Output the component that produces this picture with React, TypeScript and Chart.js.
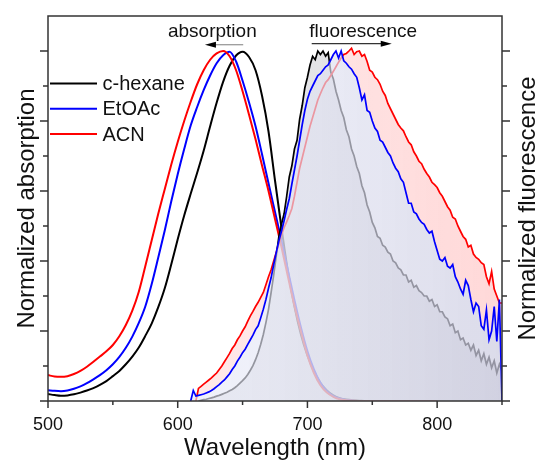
import { useEffect, useRef } from 'react';
import { Chart, registerables } from 'chart.js';

Chart.register(...registerables);

// ---------- data ----------
const X_MIN = 500;
const X_MAX = 850;
const X_TICK_LABELS = [500, 600, 700, 800];
const Y_MAX = 1.1;

const SERIES_NAMES = ['c-hexane', 'EtOAc', 'ACN'];
const SERIES_COLORS = ['#000000', '#0000ff', '#ff0000'];

const X_TITLE = 'Wavelength (nm)';
const Y_TITLE_LEFT = 'Normalized absorption';
const Y_TITLE_RIGHT = 'Normalized fluorescence';
const ANNOTATIONS = ['absorption', 'fluorescence'];

// absorption spectra: 500..800 nm, every 5 nm
const ABS_START = 500;
const ABS_STEP = 5;
const ABS_CHEXANE = [
  0.020, 0.017, 0.015, 0.016, 0.019, 0.024, 0.030, 0.037, 0.046, 0.057,
  0.071, 0.086, 0.105, 0.127, 0.153, 0.186, 0.222, 0.268, 0.322, 0.390,
  0.462, 0.530, 0.592, 0.652, 0.715, 0.785, 0.852, 0.912, 0.958, 0.987,
  0.998, 0.983, 0.945, 0.872, 0.770, 0.630, 0.495, 0.370, 0.270, 0.190,
  0.130, 0.085, 0.052, 0.030, 0.016, 0.008, 0.004, 0.002, 0.001, 0,
  0, 0, 0, 0, 0, 0, 0, 0, 0, 0, 0,
];
const ABS_ETOAC = [
  0.031, 0.029, 0.028, 0.030, 0.035, 0.042, 0.051, 0.062, 0.074, 0.088,
  0.105, 0.126, 0.152, 0.184, 0.223, 0.270, 0.335, 0.410, 0.487, 0.570,
  0.648, 0.720, 0.787, 0.840, 0.888, 0.930, 0.965, 0.988, 0.998, 0.970,
  0.915, 0.853, 0.785, 0.705, 0.622, 0.540, 0.458, 0.372, 0.288, 0.210,
  0.142, 0.090, 0.052, 0.028, 0.014, 0.007, 0.003, 0.001, 0, 0,
  0, 0, 0, 0, 0, 0, 0, 0, 0, 0, 0,
];
const ABS_ACN = [
  0.074, 0.070, 0.069, 0.071, 0.077, 0.086, 0.098, 0.112, 0.127, 0.142,
  0.160, 0.185, 0.217, 0.258, 0.312, 0.385, 0.460, 0.535, 0.605, 0.675,
  0.740, 0.800, 0.855, 0.905, 0.945, 0.975, 0.993, 1.000, 0.985, 0.945,
  0.885, 0.818, 0.748, 0.673, 0.600, 0.520, 0.440, 0.355, 0.272, 0.198,
  0.130, 0.080, 0.045, 0.024, 0.012, 0.005, 0.002, 0.001, 0, 0,
  0, 0, 0, 0, 0, 0, 0, 0, 0, 0, 0,
];

// fluorescence spectra: 610..850 nm, every 2 nm
const FL_START = 610;
const FL_STEP = 2;
const FL_CHEXANE = [
  null, null, null, 0.000, 0.002, 0.004, 0.005, 0.007, 0.009, 0.011,
  0.014, 0.016, 0.019, 0.022, 0.025, 0.029, 0.033, 0.038, 0.044, 0.051,
  0.058, 0.066, 0.076, 0.088, 0.101, 0.118, 0.138, 0.162, 0.190, 0.224,
  0.262, 0.310, 0.360, 0.415, 0.470, 0.505, 0.535, 0.585, 0.640, 0.672,
  0.720, 0.745, 0.805, 0.845, 0.895, 0.925, 0.960, 0.985, 0.975, 1.000,
  0.990, 1.000, 0.985, 0.995, 0.940, 0.920, 0.885, 0.860, 0.830, 0.810,
  0.775, 0.755, 0.720, 0.700, 0.670, 0.650, 0.615, 0.595, 0.560, 0.540,
  0.510, 0.495, 0.470, 0.465, 0.445, 0.440, 0.425, 0.420, 0.400, 0.395,
  0.380, 0.375, 0.360, 0.360, 0.340, 0.345, 0.325, 0.330, 0.315, 0.310,
  0.300, 0.300, 0.285, 0.290, 0.270, 0.275, 0.255, 0.255, 0.240, 0.235,
  0.215, 0.220, 0.195, 0.200, 0.175, 0.180, 0.160, 0.165, 0.145, 0.160,
  0.130, 0.145, 0.115, 0.135, 0.105, 0.125, 0.095, 0.115, 0.080, 0.105,
  0.085,
];
const FL_ETOAC = [
  0.000, 0.030, 0.014, 0.016, 0.018, 0.020, 0.023, 0.026, 0.030, 0.035,
  0.041, 0.047, 0.054, 0.060, 0.069, 0.078, 0.090, 0.100, 0.114, 0.125,
  0.138, 0.148, 0.162, 0.175, 0.188, 0.204, 0.215, 0.238, 0.262, 0.290,
  0.322, 0.352, 0.390, 0.425, 0.458, 0.485, 0.515, 0.548, 0.578, 0.620,
  0.660, 0.700, 0.745, 0.790, 0.830, 0.862, 0.885, 0.900, 0.915, 0.930,
  0.935, 0.945, 0.955, 0.960, 0.975, 0.990, 1.000, 0.980, 1.000, 0.972,
  0.965, 0.955, 0.948, 0.935, 0.925, 0.895, 0.860, 0.875, 0.830, 0.825,
  0.800, 0.780, 0.770, 0.745, 0.740, 0.725, 0.710, 0.700, 0.680, 0.665,
  0.655, 0.635, 0.625, 0.595, 0.565, 0.565, 0.540, 0.535, 0.520, 0.510,
  0.505, 0.490, 0.480, 0.485, 0.455, 0.430, 0.405, 0.400, 0.410, 0.385,
  0.380, 0.390, 0.355, 0.340, 0.320, 0.305, 0.345, 0.330, 0.290, 0.255,
  0.280, 0.270, 0.215, 0.205, 0.260, 0.175, 0.200, 0.270, 0.170, 0.290,
  0.000,
];
const FL_ACN = [
  null, null, 0.000, 0.036, 0.042, 0.048, 0.054, 0.060, 0.066, 0.073,
  0.080, 0.090, 0.100, 0.112, 0.124, 0.136, 0.150, 0.160, 0.175, 0.186,
  0.200, 0.212, 0.228, 0.243, 0.256, 0.270, 0.282, 0.296, 0.310, 0.332,
  0.355, 0.375, 0.400, 0.425, 0.450, 0.475, 0.495, 0.512, 0.530, 0.550,
  0.585, 0.625, 0.665, 0.695, 0.725, 0.755, 0.785, 0.810, 0.835, 0.860,
  0.878, 0.895, 0.910, 0.918, 0.930, 0.942, 0.955, 0.968, 0.980, 0.990,
  0.993, 1.000, 1.008, 0.990, 0.998, 1.000, 0.985, 0.990, 0.970, 0.945,
  0.940, 0.925, 0.918, 0.905, 0.885, 0.873, 0.850, 0.835, 0.820, 0.805,
  0.790, 0.780, 0.772, 0.755, 0.740, 0.732, 0.712, 0.700, 0.685, 0.678,
  0.662, 0.650, 0.640, 0.625, 0.618, 0.610, 0.595, 0.585, 0.570, 0.555,
  0.545, 0.525, 0.520, 0.500, 0.485, 0.470, 0.462, 0.440, 0.445, 0.420,
  0.410, 0.405, 0.395, 0.390, 0.355, 0.335, 0.370, 0.320, 0.300, 0.280,
  0.280,
];

// annotation anchors in data units (wavelength, normalized value)
const ANNOT_TEXT_POS = [[626.7, 1.041], [743.0, 1.041]];
const ANNOT_ARROWS = [[650.5, 621.0, 1.018], [703.3, 765.0, 1.021]];

const FONT = 'Liberation Sans, Arial, Helvetica, sans-serif';

type Pt = { x: number; y: number };
const toPoints = (start: number, step: number, vals: (number | null)[]): Pt[] => {
  const out: Pt[] = [];
  vals.forEach((v, i) => {
    if (v !== null) out.push({ x: start + i * step, y: v });
  });
  return out;
};

const hGrad = (stops: [number, string][]) => (c: any) => {
  const chart = c.chart;
  const a = chart.chartArea;
  if (!a) return stops[0][1];
  const g = chart.ctx.createLinearGradient(a.left, 0, a.right, 0);
  for (const [o, col] of stops) g.addColorStop(o, col);
  return g;
};

const decorPlugin = {
  id: 'decor',
  afterDraw(chart: any) {
    const { ctx, chartArea: a, scales } = chart;
    const xs = scales.x;
    const ys = scales.y;
    ctx.save();
    // frame
    ctx.strokeStyle = '#333333';
    ctx.lineWidth = 1.5;
    ctx.strokeRect(a.left, a.top, a.right - a.left, a.bottom - a.top);
    // x ticks (major every 100, minor every 50)
    for (let v = X_MIN; v <= X_MAX; v += 50) {
      const px = xs.getPixelForValue(v);
      const major = v % 100 === 0;
      ctx.beginPath();
      ctx.moveTo(px, a.bottom);
      ctx.lineTo(px, a.bottom + (major ? 7 : 4));
      ctx.stroke();
    }
    // y ticks on both sides (major 0.2, minor 0.1)
    for (let k = 0; k <= 10; k++) {
      const py = ys.getPixelForValue(k / 10);
      const len = k % 2 === 0 ? 8 : 5;
      ctx.beginPath();
      ctx.moveTo(a.left, py);
      ctx.lineTo(a.left - len, py);
      ctx.moveTo(a.right, py);
      ctx.lineTo(a.right + len, py);
      ctx.stroke();
    }

    ctx.fillStyle = '#111111';
    // axis titles
    ctx.font = `24px ${FONT}`;
    ctx.textAlign = 'center';
    ctx.textBaseline = 'alphabetic';
    const cx = (a.left + a.right) / 2;
    const cy = (a.top + a.bottom) / 2;
    ctx.fillText(X_TITLE, cx, 455);
    ctx.save();
    ctx.translate(34, cy);
    ctx.rotate(-Math.PI / 2);
    ctx.fillText(Y_TITLE_LEFT, 0, 0);
    ctx.restore();
    ctx.save();
    ctx.translate(535, cy);
    ctx.rotate(-Math.PI / 2);
    ctx.fillText(Y_TITLE_RIGHT, 0, 0);
    ctx.restore();

    // legend
    ctx.font = `20px ${FONT}`;
    ctx.textAlign = 'left';
    ctx.textBaseline = 'middle';
    SERIES_NAMES.forEach((name, i) => {
      const y = 83.5 + i * 25.3;
      ctx.strokeStyle = SERIES_COLORS[i];
      ctx.lineWidth = 2;
      ctx.beginPath();
      ctx.moveTo(a.left + 2, y);
      ctx.lineTo(a.left + 49, y);
      ctx.stroke();
      ctx.fillStyle = '#111111';
      ctx.fillText(name, a.left + 54.5, y + 1);
    });

    // annotations
    ctx.font = `19px ${FONT}`;
    ctx.textAlign = 'center';
    ctx.textBaseline = 'alphabetic';
    ANNOTATIONS.forEach((t, i) => {
      const [wx, wy] = ANNOT_TEXT_POS[i];
      ctx.fillStyle = '#111111';
      ctx.fillText(t, xs.getPixelForValue(wx), ys.getPixelForValue(wy));
      const [x0, x1, ay] = ANNOT_ARROWS[i];
      const p0 = xs.getPixelForValue(x0);
      const p1 = xs.getPixelForValue(x1);
      const py = ys.getPixelForValue(ay);
      const dir = Math.sign(p1 - p0);
      ctx.strokeStyle = i === 0 ? '#9a9a9a' : '#333333';
      ctx.lineWidth = 1.3;
      ctx.beginPath();
      ctx.moveTo(p0, py);
      ctx.lineTo(p1 - dir * 9, py);
      ctx.stroke();
      ctx.fillStyle = '#000000';
      ctx.beginPath();
      ctx.moveTo(p1, py);
      ctx.lineTo(p1 - dir * 11, py - 3);
      ctx.lineTo(p1 - dir * 11, py + 3);
      ctx.closePath();
      ctx.fill();
    });
    ctx.restore();
  },
};

export default function App() {
  const canvasRef = useRef<HTMLCanvasElement | null>(null);

  useEffect(() => {
    const canvas = canvasRef.current;
    if (!canvas) return;
    Chart.defaults.font.family = FONT;

    const absLine = (vals: number[], color: string, order: number) => ({
      data: toPoints(ABS_START, ABS_STEP, vals),
      borderColor: color,
      borderWidth: 2,
      pointRadius: 0,
      fill: false,
      cubicInterpolationMode: 'monotone' as const,
      order,
    });

    const chart = new Chart(canvas, {
      type: 'line',
      data: {
        datasets: [
          absLine(ABS_CHEXANE, SERIES_COLORS[0], 6),
          absLine(ABS_ETOAC, SERIES_COLORS[1], 5),
          absLine(ABS_ACN, SERIES_COLORS[2], 4),
          {
            data: toPoints(FL_START, FL_STEP, FL_CHEXANE),
            borderColor: SERIES_COLORS[0],
            borderWidth: 1.7,
            pointRadius: 0,
            fill: 'origin',
            backgroundColor: hGrad([
              [0, 'rgba(205,205,205,0.35)'],
              [1, 'rgba(185,185,195,0.5)'],
            ]),
            order: 3,
          },
          {
            data: toPoints(FL_START, FL_STEP, FL_ACN),
            borderColor: SERIES_COLORS[2],
            borderWidth: 1.7,
            pointRadius: 0,
            fill: { target: 5, below: 'rgba(0,0,0,0)' },
            backgroundColor: hGrad([
              [0, 'rgba(255,228,228,0.55)'],
              [1, 'rgba(255,200,200,0.7)'],
            ]),
            order: 2,
          },
          {
            data: toPoints(FL_START, FL_STEP, FL_ETOAC),
            borderColor: SERIES_COLORS[1],
            borderWidth: 1.7,
            pointRadius: 0,
            fill: 'origin',
            backgroundColor: hGrad([
              [0, 'rgba(238,241,252,0.6)'],
              [0.5, 'rgba(228,230,245,0.65)'],
              [1, 'rgba(205,205,225,0.72)'],
            ]),
            order: 1,
          },
        ],
      },
      options: {
        responsive: false,
        animation: false,
        events: [],
        layout: { padding: { top: 16, left: 0, right: 0, bottom: 0 } },
        plugins: { legend: { display: false }, tooltip: { enabled: false } },
        scales: {
          x: {
            type: 'linear',
            position: 'bottom',
            min: X_MIN,
            max: X_MAX,
            afterFit: (s: any) => { s.height = 61; },
            grid: { display: false, drawTicks: false },
            border: { display: false },
            ticks: {
              stepSize: 100,
              autoSkip: false,
              maxRotation: 0,
              padding: 13,
              color: '#111111',
              font: { size: 18, family: FONT },
              callback: (v: any) => (X_TICK_LABELS.includes(Number(v)) ? String(v) : ''),
            },
          },
          y: {
            type: 'linear',
            position: 'left',
            min: 0,
            max: Y_MAX,
            afterFit: (s: any) => { s.width = 48; },
            grid: { display: false, drawTicks: false },
            border: { display: false },
            ticks: { display: false, stepSize: 0.1 },
          },
          y2: {
            type: 'linear',
            position: 'right',
            min: 0,
            max: Y_MAX,
            afterFit: (s: any) => { s.width = 35; },
            grid: { display: false, drawTicks: false },
            border: { display: false },
            ticks: { display: false, stepSize: 0.1 },
          },
        },
      },
      plugins: [decorPlugin],
    });
    return () => chart.destroy();
  }, []);

  return (
    <div style={{ position: 'fixed', left: 0, top: 0, width: 537, height: 462, background: '#fff' }}>
      <canvas ref={canvasRef} width={537} height={462} style={{ display: 'block' }} />
    </div>
  );
}
